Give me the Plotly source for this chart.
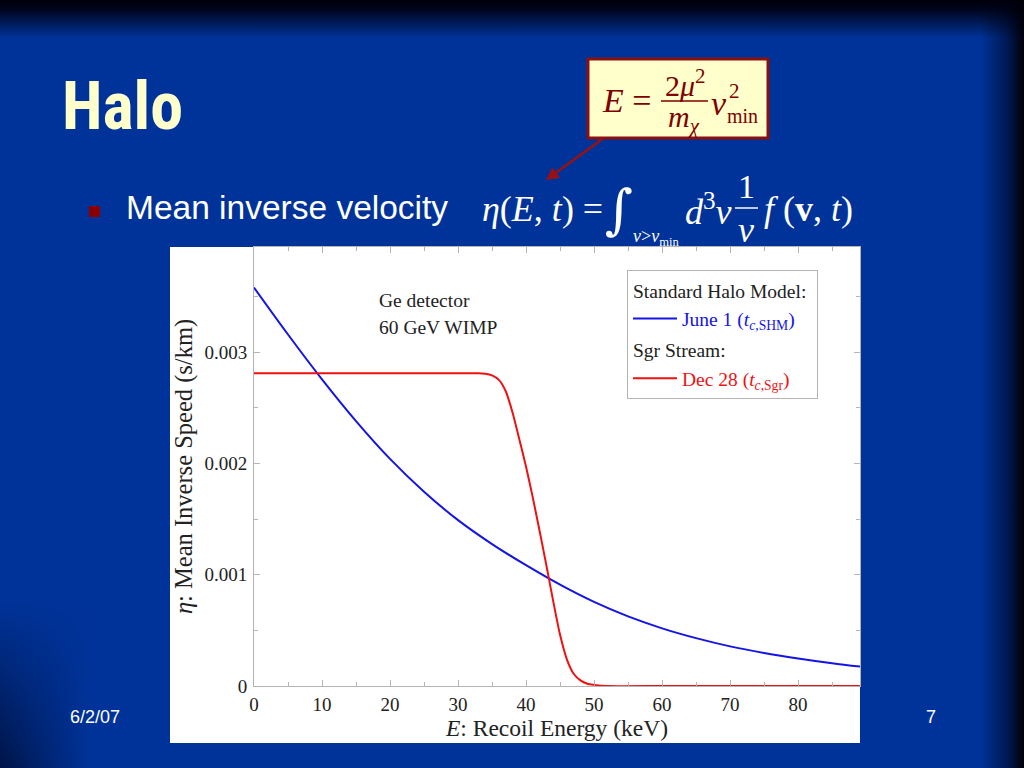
import base64
import plotly.graph_objects as go

# ---------------- data ----------------
E_shm = [0, 5, 10, 15, 20, 25, 30, 35, 40, 45, 50, 55, 60, 65, 70, 75, 80, 85, 90]
eta_shm = [0.003580, 0.003158, 0.002755, 0.002380, 0.002040, 0.001745, 0.001490,
           0.001275, 0.001085, 0.000910, 0.000755, 0.000625, 0.000518, 0.000430,
           0.000356, 0.000297, 0.000248, 0.000205, 0.000168]

E_sgr = [0, 10, 20, 30, 33, 34, 35, 36, 37, 38, 39, 40, 41, 42, 43, 44, 45, 46, 47,
         48, 49, 50, 52, 60, 70, 80, 90]
eta_sgr = [0.00281, 0.00281, 0.00281, 0.00281, 0.00281, 0.002805, 0.00279, 0.00275,
           0.00265, 0.00246, 0.00222, 0.00197, 0.00169, 0.00139, 0.00108, 0.00076,
           0.00046, 0.00024, 0.00011, 0.00005, 0.00002, 0.00001, 0.0, 0.0, 0.0, 0.0, 0.0]

x_ticks = [0, 10, 20, 30, 40, 50, 60, 70, 80]
y_ticks = [0, 0.001, 0.002, 0.003]
y_tick_text = ["0", "0.001", "0.002", "0.003"]

W, H = 1024, 768
SERIF = "Liberation Serif, Times New Roman, serif"
SANS = "Liberation Sans, Arial, sans-serif"
BLUE = "#1414e6"
RED = "#ee1111"
MAROON = "#800000"


def px(x):
    return x / W


def py(y):
    return 1 - y / H


# ---------------- slide background (svg gradient) ----------------
svg = """<svg xmlns="http://www.w3.org/2000/svg" width="1024" height="768">
<defs>
<linearGradient id="t" x1="0" y1="0" x2="0" y2="1">
<stop offset="0" stop-color="#000008" stop-opacity="1"/>
<stop offset="0.25" stop-color="#000010" stop-opacity="0.9"/>
<stop offset="1" stop-color="#000010" stop-opacity="0"/></linearGradient>
<linearGradient id="r" x1="0" y1="0" x2="1" y2="0">
<stop offset="0" stop-color="#000010" stop-opacity="0"/>
<stop offset="0.6" stop-color="#000010" stop-opacity="0.5"/>
<stop offset="1" stop-color="#000008" stop-opacity="1"/></linearGradient>
<linearGradient id="l" x1="0" y1="0" x2="1" y2="0">
<stop offset="0" stop-color="#000010" stop-opacity="0.6"/>
<stop offset="1" stop-color="#000010" stop-opacity="0"/></linearGradient>
<linearGradient id="lv" x1="0" y1="0" x2="0" y2="1">
<stop offset="0" stop-color="#fff" stop-opacity="0"/>
<stop offset="1" stop-color="#fff" stop-opacity="1"/></linearGradient>
<mask id="m"><rect x="0" y="600" width="90" height="168" fill="url(#lv)"/></mask>
</defs>
<rect width="1024" height="768" fill="#003399"/>
<rect x="0" y="0" width="1024" height="38" fill="url(#t)"/>
<rect x="980" y="0" width="44" height="768" fill="url(#r)"/>
<rect x="0" y="600" width="90" height="168" fill="url(#l)" mask="url(#m)"/>
</svg>"""
bg_uri = "data:image/svg+xml;base64," + base64.b64encode(svg.encode()).decode()

# ---------------- figure ----------------
fig = go.Figure()

fig.add_trace(go.Scatter(
    x=E_shm, y=eta_shm, mode="lines",
    line=dict(color=BLUE, width=2, shape="spline", smoothing=1.0),
    legendgroup="shm", legendgrouptitle_text="Standard Halo Model:",
    name="<span style='color:%s'>June 1 (<i>t</i><sub><i>c</i>,SHM</sub>)</span>" % BLUE,
))
fig.add_trace(go.Scatter(
    x=E_sgr, y=eta_sgr, mode="lines",
    line=dict(color=RED, width=2, shape="spline", smoothing=0.7),
    legendgroup="sgr", legendgrouptitle_text="Sgr Stream:",
    name="<span style='color:%s'>Dec 28 (<i>t</i><sub><i>c</i>,Sgr</sub>)</span>" % RED,
))

axis_common = dict(
    showline=True, linecolor="#b4b4b4", linewidth=1, mirror="ticks",
    ticks="inside", ticklen=6, tickcolor="#b4b4b4", showgrid=False, zeroline=False,
    automargin=False,
    tickfont=dict(family=SERIF, size=19, color="#222"),
)

fig.update_layout(
    width=W, height=H,
    margin=dict(l=0, r=0, t=0, b=0, autoexpand=False),
    paper_bgcolor="#003399", plot_bgcolor="white",
    xaxis=dict(
        domain=[px(254), px(860)], range=[0, 89.1],
        tickvals=x_ticks,
        minor=dict(dtick=5, tick0=0, ticks="inside", ticklen=4, tickcolor="#b4b4b4"),
        title=dict(text="<i>E</i>: Recoil Energy (keV)", standoff=4,
                   font=dict(family=SERIF, size=23.5, color="#222")),
        ticklabelstandoff=1,
        **axis_common,
    ),
    yaxis=dict(
        domain=[py(686), py(247)], range=[0, 0.003944],
        tickvals=y_ticks, ticktext=y_tick_text,
        minor=dict(dtick=0.0005, tick0=0, ticks="inside", ticklen=4, tickcolor="#b4b4b4"),
        title=dict(text="<i>η</i>: Mean Inverse Speed (s/km)", standoff=4,
                   font=dict(family=SERIF, size=24.5, color="#222")),
        ticklabelstandoff=2,
        **axis_common,
    ),
    showlegend=True,
    legend=dict(
        x=px(627), y=py(270), xanchor="left", yanchor="top",
        bgcolor="white", bordercolor="#b4b4b4", borderwidth=1,
        font=dict(family=SERIF, size=19.5, color="#222"),
        grouptitlefont=dict(family=SERIF, size=19.5, color="#222"),
        tracegroupgap=3, itemwidth=44,
    ),
    images=[dict(source=bg_uri, xref="paper", yref="paper", x=0, y=1,
                 sizex=1, sizey=1, xanchor="left", yanchor="top",
                 sizing="stretch", layer="below")],
)

shapes = [
    # white chart panel
    dict(type="rect", xref="paper", yref="paper", x0=px(170), x1=px(860),
         y0=py(743), y1=py(247), fillcolor="white", line=dict(width=0), layer="below"),
    # formula box
    dict(type="rect", xref="paper", yref="paper", x0=px(588), x1=px(768),
         y0=py(138), y1=py(59), fillcolor="#ffffcc", line=dict(color="#8b1010", width=3)),
    # fraction bar in box
    dict(type="line", xref="paper", yref="paper", x0=px(661), x1=px(708),
         y0=py(101), y1=py(101), line=dict(color=MAROON, width=1.5)),
    # bullet square
    dict(type="rect", xref="paper", yref="paper", x0=px(89), x1=px(100),
         y0=py(217), y1=py(206), fillcolor="#8b0000", line=dict(width=0)),
    # fraction bar in eta equation
    dict(type="line", xref="paper", yref="paper", x0=px(735), x1=px(758),
         y0=py(208), y1=py(208), line=dict(color="white", width=1.5)),
]
fig.update_layout(shapes=shapes)


def note(text, x, y, size, color="white", family=SERIF, xanchor="left", yanchor="middle"):
    fig.add_annotation(text=text, x=px(x), y=py(y), xref="paper", yref="paper",
                       showarrow=False, xanchor=xanchor, yanchor=yanchor,
                       font=dict(family=family, size=size, color=color))


# slide title and bullet
note("<b>Halo</b>", 60, 107, 66, color="#ffffcc",
     family="Roboto Condensed, Liberation Sans Narrow, Arial Narrow, Liberation Sans, Arial, sans-serif")
note("Mean inverse velocity", 124, 207, 33.5, family=SANS)

# eta equation
note("<i>η</i>(<i>E</i>, <i>t</i>) =", 480, 209, 36)
note("∫", 603, 209, 54, family="DejaVu Serif, serif")
note("<i>v</i>><i>v</i><sub>min</sub>", 631, 237, 18)
note("<i>d</i><sup>3</sup><i>v</i>", 683, 209, 36)
note("1", 746, 186, 34, xanchor="center")
note("<i>v</i>", 746, 230, 36, xanchor="center")
note("<i>f</i> (<b>v</b>, <i>t</i>)", 762, 209, 36)

# formula box content
note("<i>E</i> =", 600, 101, 34, color=MAROON)
note("2<i>μ</i><sup>2</sup>", 685, 83, 30, color=MAROON, xanchor="center")
note("<i>m</i><sub><i>χ</i></sub>", 684, 119, 30, color=MAROON, xanchor="center")
note("<i>v</i>", 709, 104, 34, color=MAROON)
note("2", 727, 91, 21, color=MAROON)
note("min", 725, 116, 20, color=MAROON)

# arrow from box to eta
fig.add_annotation(x=px(546), y=py(180), xref="paper", yref="paper", text="",
                   showarrow=True, ax=58, ay=-42, arrowhead=2, arrowsize=1,
                   arrowwidth=2.5, arrowcolor="#9b1010")

# chart annotation
note("Ge detector", 377, 301, 19.5, color="#222")
note("60 GeV WIMP", 377, 328, 19.5, color="#222")

# footer
note("6/2/07", 95, 717, 18, family=SANS, xanchor="center")
note("7", 931, 717, 18, family=SANS, xanchor="center")

fig.write_html("out.html", config={"displayModeBar": False},
               post_script="document.body.style.margin='0';document.body.style.overflow='hidden';")
